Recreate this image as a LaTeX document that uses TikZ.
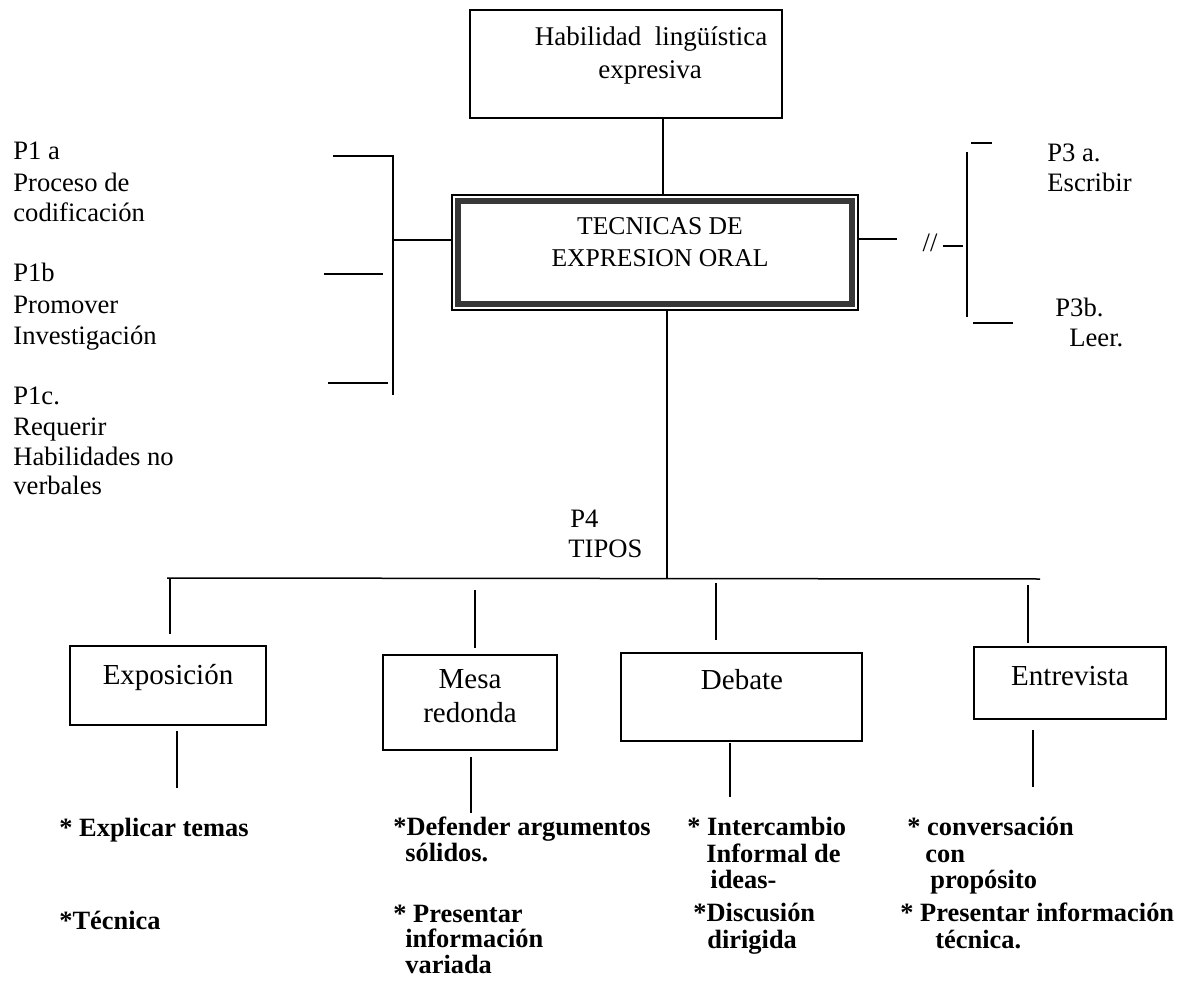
\documentclass[tikz,border=0pt]{standalone}
\usepackage{fontspec}
\setmainfont{Liberation Serif}
\usetikzlibrary{fit}
\newcommand\fLeft{\fontsize{13.3}{15}\selectfont}
\newcommand\fTop{\fontsize{13.5}{16}\selectfont}
\newcommand\fTec{\fontsize{12.8}{16}\selectfont}
\newcommand\fBox{\fontsize{14.5}{17}\selectfont}
\newcommand\fBold{\fontsize{13.2}{15}\selectfont\bfseries}
\tikzset{
  ln/.style={line width=0.75pt},
  box/.style={draw, line width=0.75pt, inner sep=0pt},
  txt/.style={anchor=base west, inner sep=0pt, font=\fLeft},
  ctxt/.style={anchor=base, inner sep=0pt},
  btxt/.style={anchor=base west, inner sep=0pt, font=\fBold},
}
\begin{document}
\begin{tikzpicture}[x=0.5pt,y=-0.5pt]
\useasboundingbox (0,0) rectangle (1187,989);
% top box
\node[box, fit={(470,10)(782,118)}] (hab) {};
\node[ctxt, font=\fTop] (habt1) at (651,46) {Habilidad\ \ lingüística};
\node[ctxt, font=\fTop] (habt2) at (650,79) {expresiva};
% central box
\node[box, fit={(452,195)(858,310)}] (tec) {};
\node[draw=black!78, line width=3pt, inner sep=0pt, fit={(458,201)(852,304)}] (tecband) {};
\node[ctxt, font=\fTec] (tect1) at (660,235) {TECNICAS DE};
\node[ctxt, font=\fTec] (tect2) at (660,267) {EXPRESION ORAL};
% hab -> tec
\coordinate (cx1) at (663,0);
\draw[ln] (hab.south -| cx1) -- (tec.north -| cx1);
% left bracket
\coordinate (lbT) at (393,156);
\coordinate (lbB) at (393,395);
\coordinate (lbM) at (393,240);
\coordinate (lt1) at (333,156);
\coordinate (lt2a) at (324,274);
\coordinate (lt2b) at (383,274);
\coordinate (lt3a) at (328,383);
\coordinate (lt3b) at (388,383);
\draw[ln] (lt1) -- (lbT) -- (lbB);
\draw[ln] (lt2a) -- (lt2b);
\draw[ln] (lt3a) -- (lt3b);
\draw[ln] (lbM) -- (tec.west |- lbM);
% left texts
\node[txt] (p1a) at (13,160) {P1 a};
\node[txt] (p1a2) at (13,192) {Proceso de};
\node[txt] (p1a3) at (13,222) {codificación};
\node[txt] (p1b) at (13,282) {P1b};
\node[txt] (p1b2) at (13,314) {Promover};
\node[txt] (p1b3) at (13,344) {Investigación};
\node[txt] (p1c) at (13,404) {P1c.};
\node[txt] (p1c2) at (13,435) {Requerir};
\node[txt] (p1c3) at (13,465) {Habilidades no};
\node[txt] (p1c4) at (13,494) {verbales};
% right side
\coordinate (rs) at (897,239);
\draw[ln] (tec.east |- rs) -- (rs);
\node[ctxt, font=\fLeft] (slash) at (930,252) {//};
\coordinate (rd1) at (943,246);
\coordinate (rd2) at (963,246);
\draw[ln] (rd1) -- (rd2);
\coordinate (rbT) at (967,152);
\coordinate (rbB) at (967,317);
\draw[ln] (rbT) -- (rbB);
\coordinate (rt1a) at (971,143);
\coordinate (rt1b) at (992,143);
\coordinate (rt2a) at (973,323);
\coordinate (rt2b) at (1013,323);
\draw[ln] (rt1a) -- (rt1b);
\draw[ln] (rt2a) -- (rt2b);
\node[txt] (p3a) at (1047,162) {P3 a.};
\node[txt] (p3a2) at (1047,192) {Escribir};
\node[txt] (p3b) at (1055,316) {P3b.};
\node[txt] (p3b2) at (1069,346) {Leer.};
% trunk and bar
\coordinate (trunk) at (667,578);
\draw[ln] (tec.south -| trunk) -- (trunk);
\node[txt] (p4) at (570,527) {P4};
\node[txt] (tipos) at (568,557) {TIPOS};
\coordinate (barL) at (167,578);
\coordinate (barR) at (1040,579);
\draw[ln] (barL) -- (barR);
% type boxes
\node[box, fit={(70,646)(266,725)}] (expo) {};
\node[box, fit={(383,655)(557,750)}] (mesa) {};
\node[box, fit={(621,653)(862,741)}] (deb) {};
\node[box, fit={(974,647)(1166,719)}] (entr) {};
\node[ctxt, font=\fBox] (expot) at (168,684) {Exposición};
\node[ctxt, font=\fBox] (mesat1) at (470,688) {Mesa};
\node[ctxt, font=\fBox] (mesat2) at (470,722) {redonda};
\node[ctxt, font=\fBox] (debt) at (742,689) {Debate};
\node[ctxt, font=\fBox] (entrt) at (1070,685) {Entrevista};
% drops above boxes
\coordinate (d1a) at (170,578); \coordinate (d1b) at (170,634);
\coordinate (d2a) at (475,590); \coordinate (d2b) at (475,648);
\coordinate (d3a) at (716,583); \coordinate (d3b) at (716,640);
\coordinate (d4a) at (1028,585); \coordinate (d4b) at (1028,643);
\draw[ln] (d1a) -- (d1b);
\draw[ln] (d2a) -- (d2b);
\draw[ln] (d3a) -- (d3b);
\draw[ln] (d4a) -- (d4b);
% lines below boxes
\coordinate (u1a) at (177,731); \coordinate (u1b) at (177,788);
\coordinate (u2a) at (471,757); \coordinate (u2b) at (471,813);
\coordinate (u3a) at (730,743); \coordinate (u3b) at (730,797);
\coordinate (u4a) at (1033,730); \coordinate (u4b) at (1033,787);
\draw[ln] (u1a) -- (u1b);
\draw[ln] (u2a) -- (u2b);
\draw[ln] (u3a) -- (u3b);
\draw[ln] (u4a) -- (u4b);
% bottom texts
\node[btxt] (e1) at (59,836) {* Explicar temas};
\node[btxt] (e2) at (59,929) {*Técnica};
\node[btxt] (m1) at (393,835) {*Defender argumentos};
\node[btxt] (m1b) at (405,861) {sólidos.};
\node[btxt] (m2) at (393,922) {* Presentar};
\node[btxt] (m2b) at (405,947) {información};
\node[btxt] (m2c) at (405,973) {variada};
\node[btxt] (d1) at (687,835) {* Intercambio};
\node[btxt] (d1b) at (706,862) {Informal de};
\node[btxt] (d1c) at (710,888) {ideas-};
\node[btxt] (d2) at (693,921) {*Discusión};
\node[btxt] (d2b) at (707,948) {dirigida};
\node[btxt] (n1) at (907,835) {* conversación};
\node[btxt] (n1b) at (925,862) {con};
\node[btxt] (n1c) at (930,888) {propósito};
\node[btxt] (n2) at (900,921) {* Presentar información};
\node[btxt] (n2b) at (935,948) {técnica.};
\end{tikzpicture}
\end{document}
